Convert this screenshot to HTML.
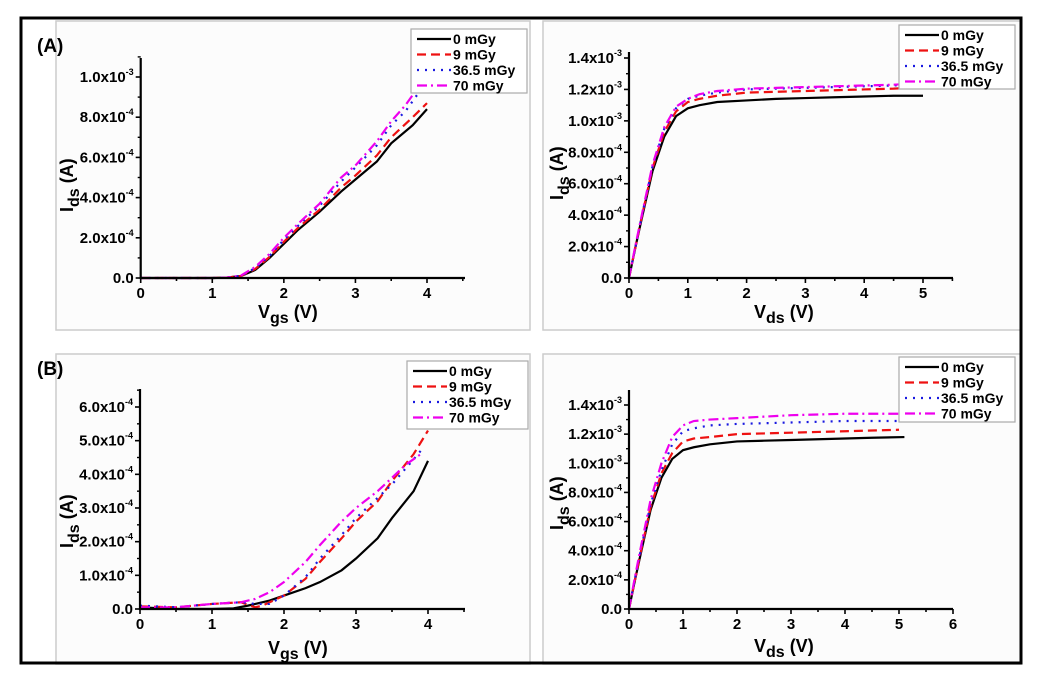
<!DOCTYPE html>
<html><head><meta charset="utf-8"><style>
html,body{margin:0;padding:0;background:#fff;}
svg{display:block;font-family:"Liberation Sans",Arial,sans-serif;font-weight:bold;}
</style></head><body>
<svg id="fig" width="1047" height="684" viewBox="0 0 1047 684">
<rect x="0" y="0" width="1047" height="684" fill="#fff"/>
<rect x="56" y="21" width="474" height="309" fill="#fcfcfc" stroke="#ccc" stroke-width="1.5"/>
<rect x="543" y="21" width="478" height="309" fill="#fcfcfc" stroke="#ccc" stroke-width="1.5"/>
<rect x="56" y="354" width="474" height="310" fill="#fcfcfc" stroke="#ccc" stroke-width="1.5"/>
<rect x="543" y="354" width="478" height="310" fill="#fcfcfc" stroke="#ccc" stroke-width="1.5"/>
<rect x="21" y="18" width="1000" height="645" fill="none" stroke="#000" stroke-width="3"/>
<text x="37" y="52" font-size="19">(A)</text>
<text x="37" y="375" font-size="19">(B)</text>
</svg>
<script>
// Panel A left: transfer, Ids in 1e-4 A
const aL_x0=[0,0.5,1.0,1.2,1.4,1.6,1.8,2.0,2.2,2.5,2.8,3.0,3.3,3.5,3.8,4.0];
const aL_y0=[0,0,0,0.02,0.1,0.4,1.0,1.7,2.4,3.3,4.3,4.9,5.8,6.7,7.6,8.4];
const aL_y9=[0,0,0,0.02,0.1,0.45,1.05,1.8,2.5,3.4,4.5,5.1,6.1,7.0,8.0,8.7];
const aL_x36=[0,0.5,1.0,1.2,1.4,1.6,1.8,2.0,2.2,2.5,2.8,3.0,3.3,3.5,3.7,3.9];
const aL_y36=[0,0,0,0.02,0.1,0.5,1.1,1.9,2.6,3.6,4.8,5.5,6.6,7.6,8.3,9.3];
const aL_y70=[0,0,0,0.02,0.12,0.55,1.2,2.0,2.7,3.7,5.0,5.6,6.8,7.8,8.6,9.6];
// Panel A right: output, Ids in 1e-3 A
const aR_x=[0,0.1,0.2,0.4,0.6,0.8,1.0,1.2,1.5,2.0,2.5,3.0,3.5,4.0,4.5,5.0];
const aR_y0=[0,0.18,0.35,0.68,0.9,1.03,1.08,1.1,1.12,1.13,1.14,1.145,1.15,1.155,1.16,1.16];
const aR_x9=[0,0.1,0.2,0.4,0.6,0.8,1.0,1.2,1.5,2.0,2.5,3.0,3.5,4.0,4.5,4.75];
const aR_y9=[0,0.18,0.36,0.7,0.93,1.06,1.12,1.14,1.16,1.18,1.185,1.19,1.195,1.2,1.205,1.21];
const aR_y36=[0,0.18,0.36,0.71,0.95,1.08,1.14,1.16,1.18,1.2,1.205,1.21,1.215,1.22,1.225,1.23];
const aR_y70=[0,0.19,0.37,0.72,0.96,1.09,1.14,1.17,1.19,1.205,1.21,1.215,1.22,1.225,1.23,1.235];
// Panel B left: transfer, Ids in 1e-4 A
const bL_x0=[0,0.5,1.0,1.3,1.5,1.8,2.0,2.3,2.5,2.8,3.0,3.3,3.5,3.8,4.0];
const bL_y0=[0.05,0,0,0.02,0.1,0.25,0.4,0.62,0.8,1.15,1.5,2.1,2.7,3.5,4.4];
const bL_x9=[0,0.5,1.0,1.4,1.6,1.7,1.85,2.0,2.3,2.5,2.8,3.0,3.3,3.5,3.8,4.0];
const bL_y9=[0.08,0.05,0.15,0.2,0.05,0.1,0.25,0.4,0.9,1.4,2.1,2.6,3.2,3.8,4.6,5.3];
const bL_x36=[0,0.5,1.0,1.4,1.6,1.8,2.0,2.3,2.5,2.8,3.0,3.3,3.5,3.7,3.9];
const bL_y36=[0.1,0.05,0.15,0.2,0.15,0.15,0.4,0.95,1.5,2.2,2.7,3.3,3.7,4.2,4.7];
const bL_x70=[0,0.5,1.0,1.4,1.6,1.8,2.0,2.3,2.5,2.8,3.0,3.3,3.5,3.7,3.9];
const bL_y70=[0.05,0.05,0.15,0.2,0.3,0.5,0.8,1.4,1.9,2.6,3.0,3.5,3.9,4.3,4.6];
// Panel B right: output, Ids in 1e-3 A
const bR_x=[0,0.1,0.2,0.4,0.6,0.8,1.0,1.2,1.5,2.0,2.5,3.0,3.5,4.0,4.5,5.1];
const bR_y0=[0,0.18,0.35,0.68,0.9,1.03,1.09,1.11,1.13,1.15,1.155,1.16,1.165,1.17,1.175,1.18];
const bR_x9=[0,0.1,0.2,0.4,0.6,0.8,1.0,1.2,1.5,2.0,2.5,3.0,3.5,4.0,4.5,5.0];
const bR_y9=[0,0.18,0.36,0.7,0.93,1.07,1.15,1.17,1.18,1.2,1.205,1.21,1.215,1.22,1.225,1.23];
const bR_y36=[0,0.19,0.37,0.72,0.95,1.13,1.22,1.24,1.26,1.27,1.275,1.28,1.285,1.29,1.29,1.29];
const bR_y70=[0,0.2,0.39,0.75,1.0,1.18,1.26,1.29,1.3,1.31,1.32,1.33,1.335,1.34,1.34,1.34];
const legendLabels=["0 mGy","9 mGy","36.5 mGy","70 mGy"];
const yTicksA=[0,2,4,6,8,10];
const yTicksAR=[0,0.2,0.4,0.6,0.8,1.0,1.2,1.4];
const yTicksB=[0,1,2,3,4,5,6];
const styles=[{c:"#000",d:""},{c:"#ee1111",d:"9,5"},{c:"#1a1ae0",d:"2,6"},{c:"#ee00ee",d:"10,4,2,4"}];
const NS="http://www.w3.org/2000/svg";
const svg=document.getElementById('fig');
function mk(tag,attrs,parent){const e=document.createElementNS(NS,tag);for(const k in attrs)e.setAttribute(k,attrs[k]);(parent||svg).appendChild(e);return e;}

function chart(cfg){
  const g=mk('g',{});
  
  
  const sx=v=>cfg.x0+(v-cfg.xmin)/(cfg.xmax-cfg.xmin)*(cfg.x1-cfg.x0);
  const sy=v=>cfg.y0-(v)/(cfg.ymax)*(cfg.y0-cfg.y1);
  cfg.series.forEach((s,i)=>{
    const p=mk('polyline',{points:s.x.map((x,j)=>sx(x)+','+sy(s.y[j])).join(' '),fill:'none',stroke:styles[i].c,'stroke-width':2.2,'stroke-dasharray':styles[i].d},g);
    
    
  });
  const ax=mk('path',{d:`M${cfg.x0},${cfg.ytop} V${cfg.y0} H${cfg.xend}`,fill:'none',stroke:'#000','stroke-width':2.2},g);
  
  
  for(let v=cfg.xmin;v<=cfg.xlast+1e-9;v+=0.5){
    const X=sx(v);const major=Math.abs(v-Math.round(v))<1e-9;
    mk('line',{x1:X,x2:X,y1:cfg.y0,y2:cfg.y0+(major?5:3),stroke:'#000','stroke-width':1.6},g);
    if(major&&v<=cfg.xlabMax){const t=mk('text',{x:X,y:cfg.y0+20,'font-size':15,'text-anchor':'middle'},g);t.textContent=String(v);
      }
  }
  const step=cfg.yTicks[1]-cfg.yTicks[0];
  cfg.yTicks.forEach((v,i)=>{
    const Y=sy(v);
    mk('line',{x1:cfg.x0-5,x2:cfg.x0,y1:Y,y2:Y,stroke:'#000','stroke-width':1.6},g);
    if(i<cfg.yTicks.length-1||cfg.minorTop){const Ym=sy(v+step/2);mk('line',{x1:cfg.x0-3,x2:cfg.x0,y1:Ym,y2:Ym,stroke:'#000','stroke-width':1.4},g);}
    const t=mk('text',{x:cfg.x0-7,y:Y+5,'font-size':15,'text-anchor':'end'},g);
    
    if(v===0){t.textContent='0.0';}
    else{const lab=cfg.yLabel(v);t.textContent=lab[0]+'x10';const s=mk('tspan',{dy:-7,'font-size':9},t);s.textContent=lab[1];}
  });
  const xt=mk('text',{x:cfg.xtitle[0],y:cfg.xtitle[1],'font-size':18},g);
  
  xt.textContent='V';const sub=mk('tspan',{dy:5,'font-size':16},xt);sub.textContent=cfg.xsub;const r=mk('tspan',{dy:-5},xt);r.textContent=' (V)';
  const yt=mk('text',{transform:`translate(${cfg.ytitle[0]},${cfg.ytitle[1]}) rotate(-90)`,'font-size':18},g);
  
  yt.textContent='I';const ys=mk('tspan',{dy:6,'font-size':16},yt);ys.textContent='ds';const yr=mk('tspan',{dy:-6},yt);yr.textContent=' (A)';
  const L=cfg.legend;
  const lg=mk('g',{},g);
  
  mk('rect',{x:L[0],y:L[1],width:L[2],height:L[3],fill:'#fff',stroke:'#aaa','stroke-width':1.2},lg);
  legendLabels.forEach((lab,i)=>{
    const Y=L[1]+10+i*15.5;
    const ln=mk('line',{x1:L[0]+6,x2:L[0]+40,y1:Y,y2:Y,stroke:styles[i].c,'stroke-width':2.2,'stroke-dasharray':styles[i].d},lg);
    
    const t=mk('text',{x:L[0]+42,y:Y+5,'font-size':14},lg);t.textContent=lab;
    
  });
}
const labA=v=>v>=10?[(v/10).toFixed(1),'-3']:[v.toFixed(1),'-4'];
const labAR=v=>v>=1?[v.toFixed(1),'-3']:[(v*10).toFixed(1),'-4'];
const labB=v=>[v.toFixed(1),'-4'];

chart({name:'chart-a-transfer',x0:140.7,x1:427,xmin:0,xmax:4,xend:465,xlast:4.5,xlabMax:4,y0:278,y1:77,ymax:10,ytop:58,yTicks:yTicksA,minorTop:true,yLabel:labA,
  series:[{x:aL_x0,y:aL_y0},{x:aL_x0,y:aL_y9},{x:aL_x36,y:aL_y36},{x:aL_x36,y:aL_y70}],
  xtitle:[258,318],xsub:'gs',ytitle:[73,212],legend:[411,29,116,64]});
chart({name:'chart-a-output',x0:629,x1:923,xmin:0,xmax:5,xend:953,xlast:5.5,xlabMax:5,y0:278,y1:58,ymax:1.4,ytop:52,yTicks:yTicksAR,minorTop:false,yLabel:labAR,
  series:[{x:aR_x,y:aR_y0},{x:aR_x9,y:aR_y9},{x:aR_x9,y:aR_y36},{x:aR_x9,y:aR_y70}],
  xtitle:[754,318],xsub:'ds',ytitle:[563,200],legend:[899,25,116,64]});
chart({name:'chart-b-transfer',x0:140,x1:428,xmin:0,xmax:4,xend:465,xlast:4.5,xlabMax:4,y0:609,y1:407,ymax:6,ytop:389,yTicks:yTicksB,minorTop:true,yLabel:labB,
  series:[{x:bL_x0,y:bL_y0},{x:bL_x9,y:bL_y9},{x:bL_x36,y:bL_y36},{x:bL_x70,y:bL_y70}],
  xtitle:[268,654],xsub:'gs',ytitle:[73,548],legend:[407,361,121,68]});
chart({name:'chart-b-output',x0:629,x1:953,xmin:0,xmax:6,xend:953,xlast:6,xlabMax:6,y0:609,y1:405,ymax:1.4,ytop:390,yTicks:yTicksAR,minorTop:false,yLabel:labAR,
  series:[{x:bR_x,y:bR_y0},{x:bR_x9,y:bR_y9},{x:bR_x9,y:bR_y36},{x:bR_x9,y:bR_y70}],
  xtitle:[754,652],xsub:'ds',ytitle:[563,530],legend:[899,357,116,65]});
</script>
</body></html>
